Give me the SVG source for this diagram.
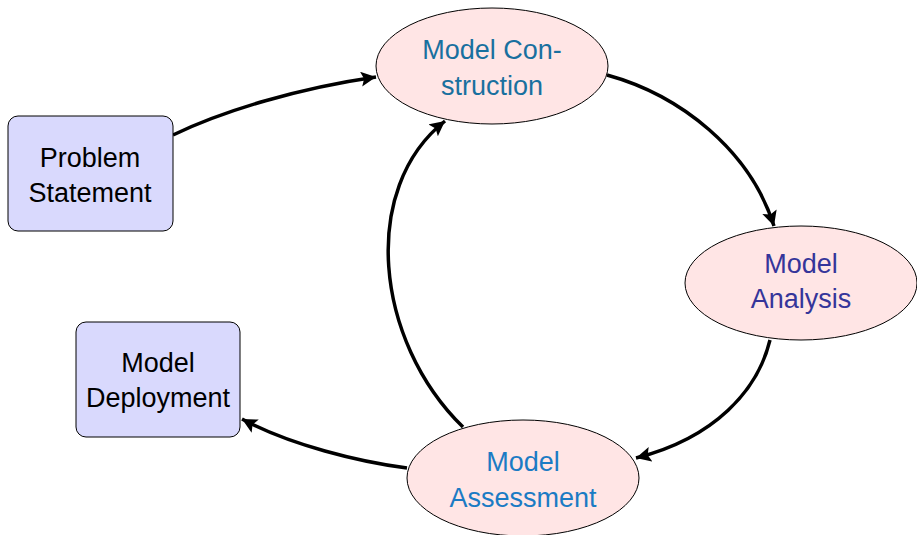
<svg xmlns="http://www.w3.org/2000/svg" width="917" height="535" viewBox="0 0 917 535">
<style>
.box{fill:#d9d9fd;stroke:#000;stroke-width:1}
.ell{fill:#ffe5e5;stroke:#000;stroke-width:1}
text{font-family:"Liberation Sans",Arial,sans-serif;font-size:27px;text-anchor:middle}
.dark{fill:#000}
.c1{fill:#19709f}
.c2{fill:#35359a}
.c3{fill:#1b7bc4}
.edge{fill:none;stroke:#000;stroke-width:3.5;marker-end:url(#ah)}
</style>
<defs>
<marker id="ah" markerUnits="userSpaceOnUse" markerWidth="20" markerHeight="20" refX="15" refY="7.5" orient="auto">
<path d="M0,0 L15,7.5 L0,15 L3,7.5 Z" fill="#000"/>
</marker>
</defs>
<g id="connectors">
<path class="edge" d="M173,135 C225,110 300,88 376,77"/>
<path class="edge" d="M607,75 C680,95 750,150 774,226"/>
<path class="edge" d="M770,340 C758,390 715,438 636,458"/>
<path class="edge" d="M463,427 C374,340 360,188 445,121"/>
<path class="edge" d="M407,468 C360,462 290,445 242,419"/>
</g>
<g id="problem">
<rect class="box" x="8" y="116" width="165" height="115" rx="10"/>
<text class="dark" x="90" y="167">Problem</text>
<text class="dark" x="90" y="202">Statement</text>
</g>
<g id="deployment">
<rect class="box" x="76" y="322" width="164" height="115" rx="10"/>
<text class="dark" x="158" y="372">Model</text>
<text class="dark" x="158" y="407">Deployment</text>
</g>
<g id="construction">
<ellipse class="ell" cx="492" cy="66" rx="116" ry="58"/>
<text class="c1" x="492" y="59">Model Con-</text>
<text class="c1" x="492" y="95">struction</text>
</g>
<g id="analysis">
<ellipse class="ell" cx="801" cy="283" rx="116" ry="57"/>
<text class="c2" x="801" y="273">Model</text>
<text class="c2" x="801" y="308">Analysis</text>
</g>
<g id="assessment">
<ellipse class="ell" cx="523" cy="478" rx="116" ry="58"/>
<text class="c3" x="523" y="471">Model</text>
<text class="c3" x="523" y="507">Assessment</text>
</g>
</svg>
